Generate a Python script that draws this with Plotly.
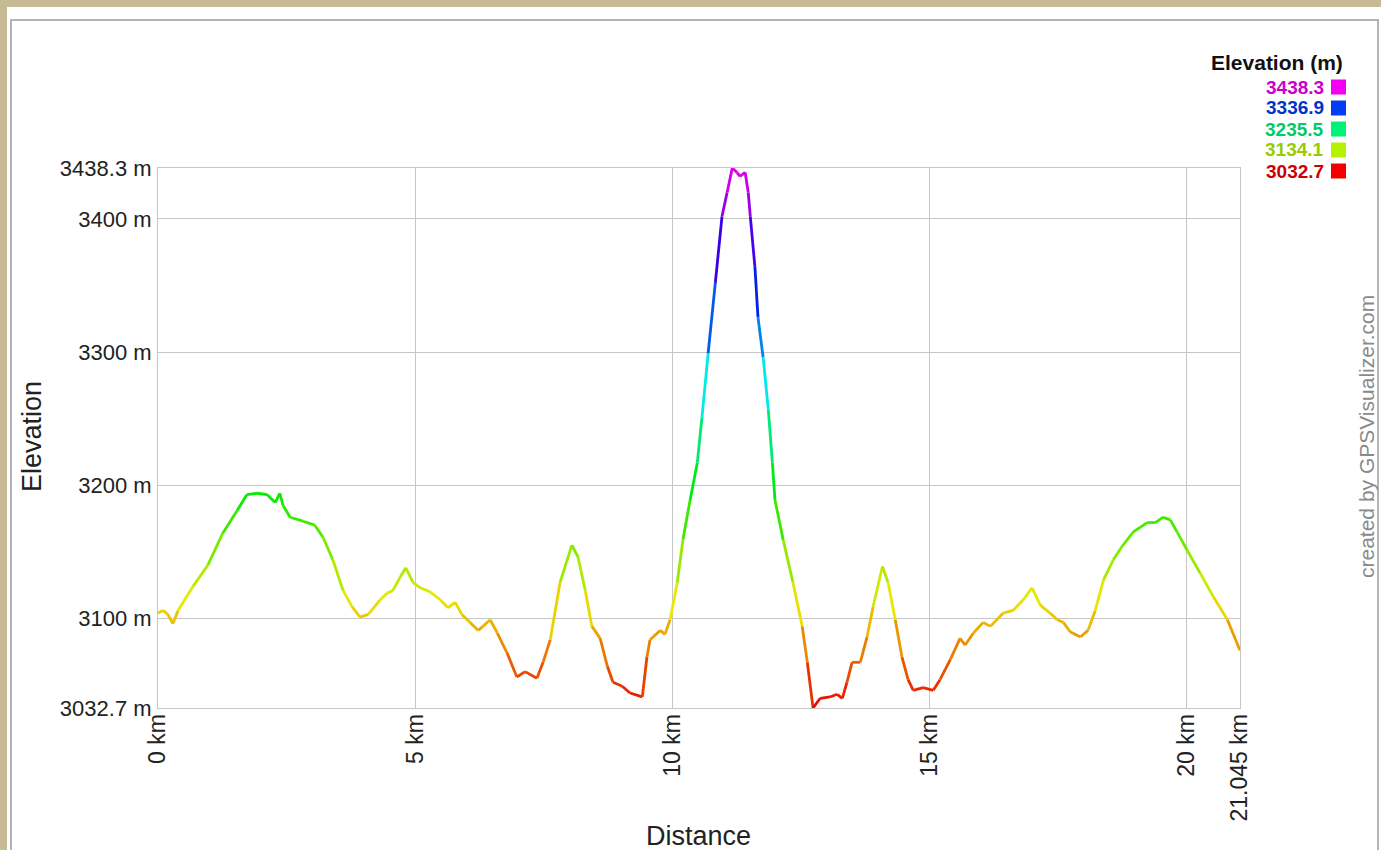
import colorsys
import plotly.graph_objects as go

# ---- data ----
distance_km = [
    0.00, 0.10, 0.19, 0.29, 0.39, 0.68, 0.97, 1.26, 1.54, 1.73, 1.93, 2.12, 2.28, 2.37, 2.43,
    2.57, 2.82, 3.05, 3.21, 3.40, 3.60, 3.77, 3.93, 4.09, 4.32, 4.46, 4.57, 4.71, 4.82, 4.96,
    5.10, 5.29, 5.49, 5.64, 5.78, 5.91, 6.07, 6.23, 6.32, 6.46, 6.60, 6.79, 6.98, 7.14, 7.37,
    7.49, 7.63, 7.82, 8.05, 8.17, 8.31, 8.44, 8.60, 8.74, 8.85, 9.03, 9.18, 9.42, 9.51, 9.57,
    9.77, 9.86, 9.96, 10.10, 10.21, 10.35, 10.49, 10.58, 10.70, 10.84, 10.97, 11.07, 11.17,
    11.26, 11.32, 11.42, 11.48, 11.52, 11.61, 11.67, 11.77, 11.87, 11.95, 12.00, 12.16, 12.35,
    12.53, 12.63, 12.74, 12.88, 13.07, 13.21, 13.31, 13.40, 13.50, 13.66, 13.79, 13.91, 14.09,
    14.20, 14.34, 14.47, 14.59, 14.69, 14.88, 15.08, 15.21, 15.41, 15.60, 15.70, 15.86, 16.05,
    16.19, 16.44, 16.63, 16.83, 17.00, 17.16, 17.35, 17.49, 17.61, 17.74, 17.94, 18.09, 18.23,
    18.39, 18.58, 18.75, 18.97, 19.24, 19.40, 19.55, 19.69, 19.82, 20.02, 20.27, 20.53, 20.80,
    21.045,
]
elevation_m = [
    3104, 3106, 3103, 3096, 3106, 3124, 3140, 3164, 3181, 3193, 3194, 3193, 3187, 3194, 3185,
    3176, 3173, 3170, 3161, 3144, 3121, 3109, 3101, 3103, 3114, 3119, 3121, 3131, 3138, 3127,
    3123, 3120, 3114, 3108, 3112, 3103, 3097, 3091, 3094, 3099, 3089, 3074, 3056, 3060, 3055,
    3067, 3084, 3127, 3155, 3146, 3121, 3094, 3085, 3064, 3052, 3049, 3044, 3041, 3071, 3084,
    3091, 3088, 3099, 3127, 3159, 3189, 3217, 3251, 3299, 3352, 3402, 3420, 3438.3,
    3435, 3432, 3435, 3420, 3402, 3364, 3326, 3296, 3257, 3217, 3189, 3159, 3127,
    3094, 3067, 3032.7, 3040, 3041, 3043, 3040, 3052, 3067, 3067, 3086, 3109, 3139,
    3127, 3099, 3071, 3054, 3046, 3048, 3046, 3054, 3069, 3085, 3080, 3089, 3097,
    3094, 3104, 3106, 3114, 3123, 3110, 3104, 3099, 3097, 3090, 3086, 3091, 3106,
    3129, 3144, 3154, 3165, 3172, 3172, 3176, 3174, 3165, 3151, 3134, 3116, 3099,
    3076,
]
x_tick_km = [0, 5, 10, 15, 20]
y_tick_m = [3100, 3200, 3300, 3400]

# ---- figure geometry (pixels) ----
W, H = 1381, 850
L, R, T, B = 158, 141, 168, 142
PW, PH = W - L - R, H - T - B


def px2x(px):
    return (px - L) / PW


def py2y(py):
    return (H - B - py) / PH


emin, emax = min(elevation_m), max(elevation_m)
total_km = distance_km[-1]


def elev_color(e, v=0.92):
    hue = 300.0 * (e - emin) / (emax - emin) / 360.0
    r, g, b = colorsys.hsv_to_rgb(hue, 1.0, v)
    return f"rgb({int(r*255)},{int(g*255)},{int(b*255)})"


fig = go.Figure()

# coloured profile: group segments by colour
groups = {}
for i in range(len(distance_km) - 1):
    mean_e = (elevation_m[i] + elevation_m[i + 1]) / 2
    c = elev_color(mean_e)
    gx, gy = groups.setdefault(c, ([], []))
    gx += [distance_km[i], distance_km[i + 1], None]
    gy += [elevation_m[i], elevation_m[i + 1], None]

for c, (gx, gy) in groups.items():
    fig.add_trace(go.Scatter(x=gx, y=gy, mode="lines",
                             line=dict(color=c, width=2.8),
                             hoverinfo="skip", showlegend=False))

font_family = "Liberation Sans, Arial, sans-serif"
grid = "#c6c6c6"

xt = x_tick_km + [total_km]
yt = [emin] + y_tick_m + [emax]

fig.update_layout(
    width=W, height=H,
    margin=dict(l=L, r=R, t=T, b=B, autoexpand=False),
    paper_bgcolor="#c7bb95",
    plot_bgcolor="white",
    showlegend=False,
    font=dict(family=font_family, color="#222"),
    xaxis=dict(
        range=[0, total_km], tickvals=xt,
        ticktext=[f"{v:g} km" for v in xt],
        tickangle=-90, showgrid=True, gridcolor=grid, gridwidth=1,
        showline=True, linecolor=grid, mirror=True, zeroline=False,
        ticks="", tickfont=dict(size=23, color="#222"), ticklabelstandoff=-4,
        fixedrange=True,
    ),
    yaxis=dict(
        range=[emin, emax], tickvals=yt,
        ticktext=[f"{v:g} m" for v in yt],
        showgrid=True, gridcolor=grid, gridwidth=1,
        showline=True, linecolor=grid, mirror=True, zeroline=False,
        ticks="", tickfont=dict(size=22, color="#222"), ticklabelstandoff=1,
        fixedrange=True,
    ),
)

shapes = [
    # white page panel
    dict(type="rect", xref="paper", yref="paper", layer="below",
         x0=px2x(7), x1=px2x(1395), y0=py2y(870), y1=py2y(7),
         fillcolor="white", line=dict(width=0)),
    # inner border
    dict(type="rect", xref="paper", yref="paper", layer="below",
         x0=px2x(11), x1=px2x(1378), y0=py2y(870), y1=py2y(20),
         fillcolor="rgba(0,0,0,0)", line=dict(color="#b4b4b4", width=2)),
]

annotations = [
    dict(text="Elevation", xref="paper", yref="paper", x=px2x(32), y=py2y(437),
         xanchor="center", yanchor="middle",
         textangle=-90, showarrow=False, font=dict(size=27, color="#222")),
    dict(text="Distance", xref="paper", yref="paper", x=px2x(698), y=py2y(836),
         xanchor="center", yanchor="middle",
         showarrow=False, font=dict(size=27, color="#222")),
    dict(text="created by GPSVisualizer.com", xref="paper", yref="paper",
         x=px2x(1366), y=py2y(437), xanchor="center", yanchor="middle",
         textangle=-90, showarrow=False,
         font=dict(size=21, color="#8a8a8a")),
    dict(text="<b>Elevation (m)</b>", xref="paper", yref="paper",
         x=px2x(1345), y=py2y(62), xanchor="right", yanchor="middle", showarrow=False,
         font=dict(size=21, color="#111")),
]

legend_vals = [emax - k * (emax - emin) / 4 for k in range(5)]
row_py = [87, 108, 129, 150, 171]
for v, py in zip(legend_vals, row_py):
    c = elev_color(v, v=0.95)
    annotations.append(dict(text=f"<b>{v:.1f}</b>", xref="paper", yref="paper",
                            x=px2x(1326), y=py2y(py), xanchor="right", yanchor="middle",
                            showarrow=False,
                            font=dict(size=19, color=elev_color(v, v=0.8))))
    shapes.append(dict(type="rect", xref="paper", yref="paper",
                       x0=px2x(1331), x1=px2x(1346), y0=py2y(py + 7.5), y1=py2y(py - 7.5),
                       fillcolor=c, line=dict(width=0)))

fig.update_layout(shapes=shapes, annotations=annotations)

fig.write_html("out.html", config={"displayModeBar": False},
               post_script="document.body.style.margin='0';document.body.style.overflow='hidden';")
